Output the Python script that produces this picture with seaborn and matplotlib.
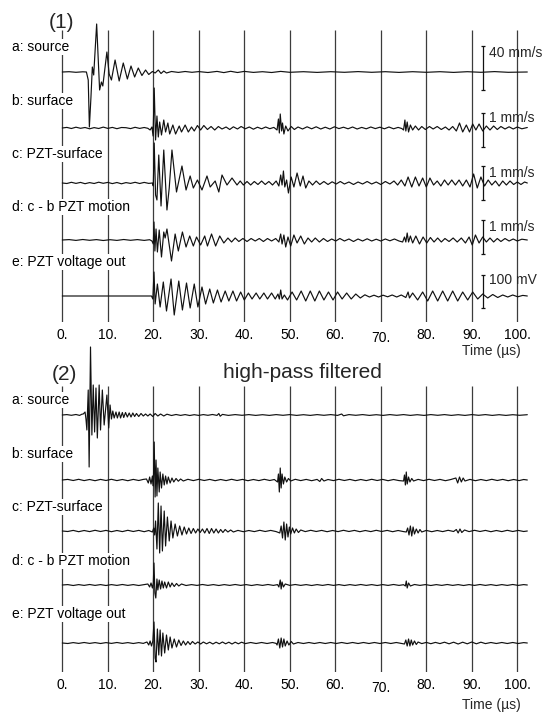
import matplotlib
matplotlib.use("Agg")
import matplotlib.pyplot as plt
import pandas as pd
import seaborn as sns

sns.set_style("white")
plt.rcParams["font.family"] = ["Liberation Sans", "DejaVu Sans"]

# ---------------------------------------------------------------------------
# Waveforms, (time in µs, amplitude in plot units) at peaks/troughs
# ---------------------------------------------------------------------------
# (1) raw records
top_a = [(0, 0), (1.5, 0.3), (3, -0.3), (4.5, 0.2), (5.3, 0), (5.7, -8), (5.95, -55), (6.3, -25),
         (6.6, 5), (6.9, -3), (7.55, 48), (8.2, -18), (8.6, -10), (8.9, -14), (9.8, 20), (10.3, -2),
         (10.8, -8), (11.6, 12), (12.5, -9), (13.4, 9), (14.3, -7), (15.1, 6), (15.9, -5), (16.7, 4),
         (17.5, -3.5), (18.3, 2), (19.0, -2.5), (19.8, 0.5), (20.4, -1), (21.1, 2), (21.7, -1.5),
         (22.3, 1), (22.9, -1), (24.0, 0.5), (25.5, -0.4), (27, 0.5), (28.5, -0.3), (30, 0.4),
         (32, -0.5), (34, 0.6), (35.5, -0.6), (37, 0.7), (38.5, -0.5), (40, 0.6), (42, -0.4),
         (44, 0.3), (46, -0.5), (48, 0.6), (50, -0.3), (53, 0.3), (56, -0.4), (59, 0.3), (62, -0.3),
         (65, 0.4), (68, -0.3), (71, 0.3), (74, -0.4), (77, 0.3), (80, -0.3), (83, 0.3), (86, -0.4),
         (89, 0.3), (92, -0.3), (95, 0.4), (98, -0.3), (102.2, 0)]

top_b = [(0, 0), (1, 0.6), (2, -0.5), (3, 0.8), (4, -0.3), (5, 0.5), (6, -0.8), (7, 0.4), (8, -0.5),
         (9, 0.9), (10, -0.4), (11, 0.6), (12, -0.7), (13, 0.5), (14, 0.3), (15, -0.6), (16, 0.7),
         (17, -0.4), (18, 0.5), (18.8, -0.3), (19.3, -2), (19.7, 1), (19.95, -8), (20.2, 40),
         (20.5, -12), (20.8, 12), (21.1, -9), (21.4, 6), (21.8, -7), (22.3, 8), (22.7, -4), (23.2, 5),
         (23.6, -6), (24.3, 3), (24.9, -6), (25.7, 2), (26.2, -4), (27.0, 3), (27.7, -4), (28.4, 1),
         (29.0, -3), (29.7, 2.5), (30.4, -2), (31.1, 2.5), (31.9, -1.5), (32.7, 1.5), (33.5, -2),
         (34.3, 1.5), (35.1, -1), (36.0, 1), (36.8, -1.5), (37.6, 1.2), (38.5, -1), (39.3, 1.5),
         (40.2, -0.8), (41.1, 1), (42.0, -1.2), (42.9, 0.8), (43.8, -0.8), (44.7, 1), (45.6, -0.7),
         (46.5, 0.6), (47.2, -2), (47.5, 9), (47.7, -5), (47.9, 14), (48.2, -3), (48.4, 5), (48.7, -6),
         (49.1, 2), (49.6, -3), (50.3, 1.5), (51.0, -1.5), (51.8, 1), (52.8, -1), (53.8, 1.2),
         (54.8, -0.8), (55.8, 1.2), (56.8, -1), (57.8, 0.8), (58.8, -1), (59.8, 1.2), (60.8, -0.6),
         (61.8, 0.8), (62.8, -0.8), (63.8, 1), (64.8, -1), (65.8, 0.6), (66.8, -0.8), (67.8, 1),
         (68.8, -0.6), (69.8, 0.8), (70.8, -0.8), (71.8, 1), (72.8, -0.8), (73.8, 0.6), (74.6, -0.5),
         (75.0, -2), (75.3, 8), (75.5, -3), (75.8, 6), (76.1, -4), (76.5, 3), (77.0, -2), (77.6, 2),
         (78.3, -2), (79.0, 1.5), (79.8, -1.5), (80.7, 1.5), (81.5, -1), (82.4, 1.5), (83.3, -1.5),
         (84.2, 1), (85.0, -2), (85.8, 1.5), (86.6, -3), (87.3, 5), (88.0, -4), (88.8, 3), (89.5, -4),
         (90.2, 4), (90.9, -2), (91.6, 4), (92.4, -3), (93.2, 2), (94.0, -2), (94.8, 2), (95.6, -1.5),
         (96.4, 1.5), (97.3, -1), (98.2, 1.2), (99.1, -1), (100.0, 1), (101.0, -0.8), (102.2, 0.5)]

top_c = [(0, 0), (1, -0.5), (2, 0.7), (3, -0.4), (4, 0.6), (5, -0.7), (6, 0.4), (7, -0.5), (8, 0.8),
         (9, -0.3), (10, 0.6), (11, -0.6), (12, 0.5), (13, -0.8), (14, 0.4), (15, -0.4), (16, 0.7),
         (17, -0.5), (18, 0.6), (19, -0.4), (19.8, 0), (20.0, -3), (20.2, 40), (20.5, -12), (20.8, -17),
         (21.2, 28), (21.7, -23), (22.3, 33), (23.0, -27), (23.5, -5), (24.1, 33), (25.1, -9),
         (26.3, 17), (27.2, -7), (28.1, 7), (28.8, -5), (29.7, 3), (30.7, -7), (31.8, 7), (32.5, -4),
         (33.6, 2), (34.4, -9), (35.1, 8), (36.2, -2), (37.3, 5), (38.4, -2), (39.1, 2), (39.8, -2),
         (40.6, 1.5), (41.4, -2), (42.2, 1.5), (43.0, -1.5), (43.8, 2), (44.6, -1.5), (45.4, 1.5),
         (46.2, -2), (47.0, 2), (47.6, -3), (48.0, 8), (48.3, -2), (48.6, 12), (48.9, -4), (49.3, 3),
         (49.7, -10), (50.3, 6), (50.9, -4), (51.6, 10), (52.3, -3), (52.9, 7), (53.5, -5), (54.2, 2),
         (55.0, -2), (55.8, 2), (56.6, -1.5), (57.5, 1.5), (58.4, -1.5), (59.3, 1.2), (60.2, -1),
         (61.1, 1.5), (62.0, -1), (63.0, 1), (64.0, -1.5), (65.0, 1), (66.0, -1), (67.0, 1.5),
         (68.0, -1), (69.0, 1), (70.0, -1.5), (71.0, 1.5), (72.0, -1), (72.9, 2), (73.7, -2), (74.5, 3),
         (75.3, -3), (76.0, 6), (76.8, -4), (77.6, 6), (78.4, -3), (79.2, 5), (80.0, -4), (80.8, 5),
         (81.6, -2), (82.4, 2), (83.2, -3), (84.0, 3), (84.8, -2), (85.6, 3), (86.4, -2), (87.2, 3),
         (88.0, -3), (88.8, 3), (89.6, -4), (90.4, 9), (91.2, -5), (92.0, 6), (92.8, -3), (93.6, 3),
         (94.4, -2), (95.2, 2), (96.0, -3), (96.8, 2), (97.6, -2), (98.4, 2), (99.2, -1.5), (100.0, 1),
         (100.8, -1.5), (101.6, 1), (102.2, 0)]

top_d = [(0, 0), (1.5, 0.4), (3, -0.4), (4.5, 0.5), (6, -0.3), (7.5, 0.4), (9, -0.5), (10.5, 0.3),
         (12, -0.4), (13.5, 0.5), (15, -0.3), (16.5, 0.4), (18, -0.4), (19.2, 0.3), (19.7, -1),
         (20.0, -4), (20.15, 18), (20.35, -11), (20.6, 11), (20.9, -12), (21.3, 10), (21.8, -17),
         (22.3, 8), (22.6, 2), (23.0, 11), (24.0, -21), (24.8, 6), (25.5, -11), (26.4, 8), (27.2, -7),
         (28.0, 4), (28.8, -6), (29.5, 3), (30.4, -5), (31.3, 4), (31.9, -6), (32.8, 6), (33.7, -6),
         (34.6, 4), (35.5, -3), (36.4, 2), (37.2, -2), (38.0, 2), (38.8, -1.5), (39.7, 1.5),
         (40.6, -1.5), (41.5, 1.5), (42.4, -1), (43.3, 1.5), (44.2, -1.5), (45.1, 1.5), (46.0, -1),
         (46.9, 1.5), (47.6, -2), (48.0, 6), (48.3, -4), (48.7, 5), (49.1, -7), (49.6, 3), (50.2, -6),
         (50.9, 5), (51.6, -3), (52.4, 4), (53.2, -4), (54.0, 2), (54.8, -2), (55.6, 2), (56.5, -2),
         (57.4, 1.5), (58.3, -1.5), (59.2, 1), (60.1, -1), (61.0, 1.5), (62.0, -1), (63.0, 1),
         (64.0, -1.5), (65.0, 1), (66.0, -1), (67.0, 1.2), (68.0, -1), (69.0, 0.8), (70.0, -1),
         (71.0, 1), (72.0, -0.8), (73.0, 1), (74.0, -1), (74.8, -2), (75.2, 3), (75.5, -2), (75.8, 7),
         (76.1, -2), (76.5, 4), (77.0, -3), (77.7, 4), (78.5, -4), (79.3, 3), (80.1, -3), (80.9, 2.5),
         (81.7, -2), (82.5, 2), (83.3, -2), (84.1, 1.5), (85.0, -1.5), (85.9, 2), (86.8, -2), (87.7, 2),
         (88.6, -3), (89.4, 3), (90.1, -5), (90.8, 5), (91.6, -3), (92.4, 3), (93.2, -2), (94.0, 2),
         (94.8, -2), (95.6, 1.5), (96.4, -1.5), (97.3, 1.5), (98.2, -1), (99.1, 1), (100.0, -1),
         (101.0, 0.8), (102.2, 0)]

top_e = [(0, 0), (19.6, 0), (19.9, -3), (20.15, 24), (20.4, -8), (20.9, 12), (21.5, -11), (22.2, 14),
         (22.9, -15), (23.9, 17), (24.6, -19), (25.6, 15), (26.4, -14), (27.3, 13), (28.1, -12),
         (29.0, 12), (29.8, -11), (30.7, 9), (31.5, -8), (32.4, 7), (33.2, -7), (34.1, 6), (34.9, -6),
         (35.8, 5), (36.6, -5), (37.5, 5), (38.3, -5), (39.2, 4), (40.0, -4), (40.9, 3), (41.7, -3),
         (42.6, 3), (43.4, -3), (44.3, 3), (45.1, -3), (46.0, 3), (46.8, -3), (47.4, 2), (47.7, -3),
         (48.0, 6), (48.3, -3), (48.8, 1), (49.5, -4), (50.5, 4), (51.5, -4), (52.5, 5), (53.5, -5),
         (54.5, 5), (55.5, -5), (56.5, 5), (57.5, -4), (58.5, 4), (59.5, -4), (60.5, 4), (61.5, -3),
         (62.5, 3), (63.5, -3), (64.5, 2), (65.5, -2), (66.5, 1.2), (67.5, -1), (68.5, 0.8),
         (69.5, -1), (70.5, 0.8), (71.5, -0.8), (72.5, 1), (73.5, -1), (74.5, 1), (75.5, -1.5),
         (76.0, 4), (76.3, -2), (77.0, 3), (78.1, -4), (79.2, 4), (80.3, -5), (81.4, 5), (82.5, -5),
         (83.6, 5), (84.7, -5), (85.8, 5), (86.9, -5), (88.0, 4), (89.1, -4), (90.2, 4), (91.3, -3),
         (92.4, 2), (93.5, -2), (94.6, 1.5), (95.7, -1.5), (96.8, 1), (97.9, -1), (99.0, 1),
         (100.1, -0.8), (101.2, 0.6), (102.2, 0)]

# (2) high-pass filtered records
bot_a = [(0, 0), (1, 0.4), (2, -0.3), (3, 0.5), (3.8, -0.4), (4.3, 0.8), (4.6, 1), (5.0, 3), (5.2, -4),
         (5.4, -15), (5.7, 25), (5.9, -52), (6.2, 68), (6.5, -20), (6.8, 30), (7.1, -17), (7.4, 27),
         (7.7, -23), (8.1, 30), (8.4, -15), (8.8, 25), (9.2, -10), (9.8, 20), (10.2, -13), (10.5, 10),
         (10.8, -4), (11.1, 4), (11.4, -3), (11.8, 3), (12.1, -3), (12.5, 3), (12.8, -3), (13.2, 2.5),
         (13.5, -2.5), (13.9, 2.5), (14.3, -2), (14.7, 2), (15.1, -2), (15.5, 2), (15.9, -1.5),
         (16.3, 1.5), (16.8, -1.5), (17.3, 1.5), (17.8, -1), (18.3, 1), (18.8, -1), (19.3, 1),
         (19.9, -1.5), (20.4, 1.5), (21.0, -1), (21.6, 1), (22.3, -1), (23.0, 0.8), (24, -0.5),
         (25, 0.5), (26, -0.4), (27, 0.4), (28, -0.5), (29, 0.3), (30, -0.4), (31, 0.4), (32, -0.3),
         (33, 0.5), (34, -0.4), (34.4, 1.5), (34.7, -1.2), (35.2, 0.6), (36.5, -0.4), (38, 0.4),
         (39.5, -0.3), (41, 0.4), (42.5, -0.4), (44, 0.3), (45.5, -0.4), (47, 0.4), (48.5, -0.3),
         (50, 0.4), (51.5, -0.4), (53, 0.3), (54.5, -0.4), (56, 0.4), (57.5, -0.3), (59, 0.4),
         (60.5, -0.4), (61.4, 1), (61.8, -0.8), (63, 0.4), (64.5, -0.3), (66, 0.4), (67.5, -0.4),
         (69, 0.3), (70.5, -0.4), (72, 0.4), (73.5, -0.3), (75, 0.4), (76.5, -0.4), (78, 0.3),
         (79.5, -0.4), (81, 0.4), (82.5, -0.3), (84, 0.4), (85.5, -0.4), (87, 0.3), (88.5, -0.4),
         (90, 0.4), (91.5, -0.3), (93, 0.4), (94.5, -0.4), (96, 0.3), (97.5, -0.4), (99, 0.3),
         (100.5, -0.3), (102.2, 0.3)]

bot_b = [(0, 0), (1.2, 0.6), (2.4, -0.5), (3.6, 0.7), (4.8, -0.6), (6.0, 0.5), (7.2, -0.7), (8.4, 0.6),
         (9.6, -0.5), (10.8, 0.7), (12.0, -0.6), (13.2, 0.5), (14.4, -0.7), (15.6, 0.6), (16.8, -0.5),
         (17.8, 0.6), (18.5, 1), (18.9, -3), (19.2, 3), (19.5, -4), (19.8, 4), (20.0, -6), (20.2, 38),
         (20.4, -17), (20.6, 20), (20.8, -16), (21.0, 12), (21.3, -12), (21.5, 8), (21.8, -8),
         (22.1, 6), (22.4, -5), (22.7, 4), (23.0, -4), (23.3, 3), (23.7, -3), (24.1, 2), (24.5, -2),
         (25.0, 1.5), (25.5, -1.2), (26.0, 1), (26.6, -1), (27.6, 0.7), (28.8, -0.6), (30.0, 0.7),
         (31.2, -0.5), (32.4, 0.6), (33.6, -0.7), (34.8, 0.5), (36.0, -0.6), (37.2, 0.7), (38.4, -0.5),
         (39.6, 0.6), (40.8, -0.7), (42.0, 0.5), (43.2, -0.6), (44.4, 0.7), (45.6, -0.5), (46.6, 0.5),
         (47.3, -2), (47.5, 6), (47.7, -12), (47.9, 12), (48.1, -8), (48.3, 6), (48.6, -4), (48.9, 3),
         (49.3, -2), (49.7, 1.5), (50.2, -1), (51.2, 0.7), (52.4, -0.6), (53.6, 0.6), (54.8, -0.7),
         (56.0, 0.6), (56.6, -1.5), (57.0, 1.5), (57.5, -1), (58.4, 0.5), (59.6, -0.6), (60.8, 0.7),
         (62.0, -0.5), (63.2, 0.6), (64.4, -0.7), (65.6, 0.5), (66.8, -0.6), (68.0, 0.7), (69.2, -0.5),
         (70.4, 0.6), (71.6, -0.7), (72.8, 0.5), (74.0, -0.6), (75.0, -1), (75.2, 5), (75.4, -5),
         (75.6, 8), (75.8, -4), (76.1, 3), (76.4, -2), (76.8, 1.5), (77.2, -1), (78.2, 0.6),
         (79.4, -0.6), (80.6, 0.7), (81.8, -0.5), (83.0, 0.6), (84.2, -0.7), (85.4, 0.5), (86.5, 2),
         (86.9, -3), (87.3, 3), (87.7, -2), (88.1, 2), (88.5, -1), (89.6, 0.6), (90.8, -0.7),
         (92.0, 0.5), (93.2, -0.6), (94.4, 0.7), (95.6, -0.5), (96.8, 0.6), (98.0, -0.7), (99.2, 0.5),
         (100.4, -0.6), (101.4, 0.5), (102.2, 0)]

bot_c = [(0, 0), (1.2, -0.5), (2.4, 0.6), (3.6, -0.7), (4.8, 0.5), (6.0, -0.6), (7.2, 0.7), (8.4, -0.5),
         (9.6, 0.6), (10.8, -0.7), (12.0, 0.5), (13.2, -0.6), (14.4, 0.7), (15.6, -0.5), (16.8, 0.6),
         (18.0, -0.7), (19.0, 0.5), (19.8, -1), (20.1, 3), (20.3, -4), (20.5, 10), (20.8, -18),
         (21.1, 28), (21.4, -22), (21.7, 25), (22.0, -20), (22.4, 20), (22.7, -15), (23.1, 14),
         (23.5, -10), (23.9, 10), (24.3, -7), (24.8, 7), (25.3, -5), (25.8, 5), (26.3, -4), (26.8, 4),
         (27.3, -3), (27.8, 3), (28.3, -2.5), (28.8, 2.5), (29.3, -2), (29.8, 2), (30.3, -1.5),
         (30.8, 2), (31.3, -2), (31.8, 2.5), (32.3, -2.5), (32.8, 2.5), (33.3, -2), (33.8, 2),
         (34.3, -2), (34.8, 1.5), (35.3, -1.5), (35.8, 1.5), (36.4, -1), (37.0, 1), (37.6, -1),
         (38.6, 0.6), (39.8, -0.7), (41.0, 0.5), (42.2, -0.6), (43.4, 0.7), (44.6, -0.5), (45.8, 0.6),
         (47.0, -0.6), (47.8, -2), (48.1, 5), (48.4, -7), (48.7, 9), (49.0, -9), (49.3, 7), (49.6, -6),
         (49.9, 4), (50.2, -3), (50.6, 3), (51.0, -2), (51.4, 2), (51.9, -1.5), (52.4, 1),
         (53.4, -0.6), (54.6, 0.7), (55.8, -0.5), (57.0, 0.6), (58.2, -0.7), (59.4, 0.5), (60.6, -0.6),
         (61.8, 0.7), (63.0, -0.5), (64.2, 0.6), (65.4, -0.7), (66.6, 0.5), (67.8, -0.6), (69.0, 0.7),
         (70.2, -0.5), (71.4, 0.6), (72.6, -0.7), (73.8, 0.5), (75.0, -0.6), (75.6, -1), (75.9, 3),
         (76.2, -4), (76.5, 5), (76.8, -5), (77.1, 4), (77.4, -3), (77.8, 2), (78.2, -2), (78.6, 1.5),
         (79.0, -1), (80.0, 0.6), (81.2, -0.7), (82.4, 0.5), (83.6, -0.6), (84.8, 0.7), (86.0, -0.5),
         (86.6, 1.5), (87.0, -2), (87.4, 2), (87.8, -1.5), (88.4, 1), (89.4, -0.6), (90.6, 0.7),
         (91.8, -0.5), (93.0, 0.6), (94.2, -0.7), (95.4, 0.5), (96.6, -0.6), (97.8, 0.7), (99.0, -0.5),
         (100.2, 0.6), (101.4, -0.5), (102.2, 0)]

bot_d = [(0, 0), (1.2, 0.4), (2.4, -0.5), (3.6, 0.4), (4.8, -0.4), (6.0, 0.5), (7.2, -0.4), (8.4, 0.4),
         (9.6, -0.5), (10.8, 0.4), (12.0, -0.4), (13.2, 0.5), (14.4, -0.4), (15.6, 0.4), (16.8, -0.5),
         (18.0, 0.4), (18.8, 1), (19.2, -2), (19.5, 2), (19.8, -3), (20.0, 2), (20.15, 22),
         (20.35, -8), (20.55, -13), (20.8, 6), (21.0, -5), (21.3, 5), (21.6, -4), (21.9, 4),
         (22.2, -3), (22.5, 3), (22.9, -3), (23.3, 3), (23.7, -2), (24.1, 2), (24.6, -1.5),
         (25.1, 1.5), (25.6, -1), (26.2, 1), (27.2, -0.5), (28.4, 0.4), (29.6, -0.4), (30.8, 0.5),
         (32.0, -0.4), (33.2, 0.4), (34.4, -0.5), (35.6, 0.4), (36.8, -0.4), (38.0, 0.5), (39.2, -0.4),
         (40.4, 0.4), (41.6, -0.5), (42.8, 0.4), (44.0, -0.4), (45.2, 0.5), (46.4, -0.4), (47.3, 0.4),
         (47.6, -2), (47.9, 5), (48.1, -4), (48.3, 3), (48.6, -2), (49.0, 1), (50.0, -0.4), (51.2, 0.5),
         (52.4, -0.4), (53.6, 0.4), (54.8, -0.5), (56.0, 0.4), (57.2, -0.4), (58.4, 0.5), (59.6, -0.4),
         (60.8, 0.4), (62.0, -0.5), (63.2, 0.4), (64.4, -0.4), (65.6, 0.5), (66.8, -0.4), (68.0, 0.4),
         (69.2, -0.5), (70.4, 0.4), (71.6, -0.4), (72.8, 0.5), (74.0, -0.4), (75.0, 0.3), (75.4, -1),
         (75.6, 4), (75.8, -3), (76.1, 2), (76.5, -1), (77.4, 0.5), (78.6, -0.4), (79.8, 0.4),
         (81.0, -0.5), (82.2, 0.4), (83.4, -0.4), (84.6, 0.5), (85.8, -0.4), (87.0, 0.4), (88.2, -0.5),
         (89.4, 0.4), (90.6, -0.4), (91.8, 0.5), (93.0, -0.4), (94.2, 0.4), (95.4, -0.5), (96.6, 0.4),
         (97.8, -0.4), (99.0, 0.5), (100.2, -0.4), (101.4, 0.4), (102.2, 0)]

bot_e = [(0, 0), (1.2, -0.5), (2.4, 0.4), (3.6, -0.4), (4.8, 0.5), (6.0, -0.4), (7.2, 0.4), (8.4, -0.5),
         (9.6, 0.4), (10.8, -0.4), (12.0, 0.5), (13.2, -0.4), (14.4, 0.4), (15.6, -0.5), (16.8, 0.4),
         (17.8, -0.4), (18.6, 1), (19.0, -2), (19.3, 2), (19.6, -3), (19.9, 2), (20.15, 21),
         (20.4, -15), (20.6, -19), (20.9, 14), (21.2, -12), (21.5, 13), (21.8, -13), (22.1, 10),
         (22.5, -10), (22.9, 8), (23.3, -7), (23.7, 6), (24.1, -5), (24.6, 4), (25.1, -4), (25.6, 3),
         (26.1, -2.5), (26.6, 2), (27.1, -2), (27.6, 1.5), (28.1, -1.5), (28.6, 1.5), (29.2, -1),
         (29.8, 1), (30.4, -1), (31.0, 1), (31.7, -0.8), (32.4, 0.8), (33.1, -1), (33.8, 0.8),
         (34.5, -0.8), (35.2, 1), (35.9, -0.8), (36.6, 0.8), (37.3, -1), (38.0, 0.8), (38.7, -0.8),
         (39.4, 0.8), (40.2, -0.6), (41.4, 0.5), (42.6, -0.5), (43.8, 0.5), (45.0, -0.5), (46.2, 0.5),
         (47.0, -0.4), (47.2, -2), (47.5, 4), (47.8, -5), (48.1, 5), (48.4, -4), (48.7, 4), (49.0, -3),
         (49.4, 2), (49.8, -2), (50.3, 1.5), (50.8, -1), (51.8, 0.5), (53.0, -0.5), (54.2, 0.5),
         (55.4, -0.5), (56.6, 0.5), (57.8, -0.5), (59.0, 0.5), (60.2, -0.5), (61.4, 0.5), (62.6, -0.5),
         (63.8, 0.5), (65.0, -0.5), (66.2, 0.5), (67.4, -0.5), (68.6, 0.5), (69.8, -0.5), (71.0, 0.5),
         (72.2, -0.5), (73.4, 0.5), (74.6, -0.5), (75.2, -1), (75.5, 3), (75.8, -3), (76.1, 4),
         (76.4, -3), (76.7, 3), (77.0, -2), (77.4, 2), (77.8, -1.5), (78.2, 1), (79.0, -0.6),
         (80.0, 0.6), (81.0, -0.7), (82.0, 0.6), (83.0, -0.6), (84.0, 0.8), (85.0, -0.8), (86.0, 0.8),
         (87.0, -1), (88.0, 0.8), (89.0, -0.8), (90.0, 1), (91.0, -0.8), (92.0, 0.8), (93.0, -0.6),
         (94.2, 0.5), (95.4, -0.5), (96.6, 0.5), (97.8, -0.5), (99.0, 0.5), (100.2, -0.5), (101.4, 0.4),
         (102.2, 0)]

trace_labels = ["a: source", "b: surface", "c: PZT-surface", "d: c - b PZT motion", "e: PZT voltage out"]
time_ticks = [0, 10, 20, 30, 40, 50, 60, 70, 80, 90, 100]
time_tick_labels = ["0.", "10.", "20.", "30.", "40.", "50.", "60.", "70.", "80.", "90.", "100."]

# calibration bars of the raw records: value, unit, plot units per physical unit
scale_values = [40, 1, 1, 1, 100]
scale_units = ["mm/s", "mm/s", "mm/s", "mm/s", "mV"]
trace_gain = [1.1, 34, 34, 34, 0.33]

# ---------------------------------------------------------------------------
# Layout (figure pixels, measured from the top-left corner)
# ---------------------------------------------------------------------------
W, H, DPI = 552, 712, 100
X0_PX, PX_PER_US = 62.3, 4.55
T_LEFT, T_RIGHT = -X0_PX / PX_PER_US, (W - X0_PX) / PX_PER_US

panels = [
    dict(traces=[top_a, top_b, top_c, top_d, top_e], top=20, bottom=322, grid_top=30,
         baselines=[72, 128, 183, 240, 296], label_y=[47, 101, 154, 207, 262],
         tag="(1)", tag_xy=(62, 22), xlabel_y=351, calib=True),
    dict(traces=[bot_a, bot_b, bot_c, bot_d, bot_e], top=340, bottom=672, grid_top=386,
         baselines=[415, 480, 531, 585, 643], label_y=[400, 454, 507, 561, 614],
         tag="(2)", tag_xy=(64.5, 374), xlabel_y=705, calib=False),
]
calib_t = 92.5                     # time position of the calibration bars
calib_label_t = 93.8
calib_bottom = [-18, -19, -17, -14, -12]   # bar foot relative to baseline
calib_label_y = [269 - 250, 204 - 194, 149.3 - 139, 95.3 - 82, 42 - 26]

fig = plt.figure(figsize=(W / DPI, H / DPI), dpi=DPI)
fig.patch.set_facecolor("white")


def fig_xy(x_px, y_px):
    return x_px / W, 1 - y_px / H


ink = "#111111"
for p in panels:
    height = p["bottom"] - p["top"]
    ax = fig.add_axes([0, 1 - p["bottom"] / H, 1, height / H])
    ax.set_xlim(T_LEFT, T_RIGHT)
    ax.set_ylim(0, height)
    ax.patch.set_alpha(0)
    for s in ax.spines.values():
        s.set_visible(False)
    ax.set_yticks([])

    # vertical time grid
    ax.vlines(time_ticks, 0, p["bottom"] - p["grid_top"], colors="#3c3c3c",
              linewidth=0.9, zorder=1)

    for k, (trace, base_px) in enumerate(zip(p["traces"], p["baselines"])):
        offset = p["bottom"] - base_px
        df = pd.DataFrame(trace, columns=["time", "amp"])
        df["y"] = offset + df["amp"]
        sns.lineplot(data=df, x="time", y="y", ax=ax, color=ink, linewidth=0.85,
                     estimator=None, sort=False, legend=False, zorder=2)

        fx, fy = fig_xy(12, p["label_y"][k])
        fig.text(fx, fy, trace_labels[k], fontsize=10, ha="left", va="center", color="black",
                 bbox=dict(facecolor="white", edgecolor="none", pad=0.6), zorder=5)

        if p["calib"]:
            bar_len = scale_values[k] * trace_gain[k]
            y0 = offset + calib_bottom[k]
            y1 = y0 + bar_len
            ax.vlines(calib_t, y0, y1, colors=ink, linewidth=0.9, zorder=3)
            ax.hlines([y0, y1], calib_t - 0.45, calib_t + 0.45, colors=ink, linewidth=0.9, zorder=3)
            ax.text(calib_label_t, offset + calib_label_y[k],
                    f"{scale_values[k]} {scale_units[k]}", fontsize=10, ha="left", va="center")

    ax.set_xticks(time_ticks)
    ax.set_xticklabels(time_tick_labels)
    ax.set_xlabel("")
    ax.set_ylabel("")
    ax.tick_params(axis="x", length=0, pad=4.5, labelsize=10, colors="black")
    ax.xaxis.get_major_ticks()[time_ticks.index(70)].set_pad(6.8)

    fx, fy = fig_xy(491, p["xlabel_y"])
    fig.text(fx, fy, "Time (µs)", fontsize=10, ha="center", va="center")
    fx, fy = fig_xy(*p["tag_xy"])
    fig.text(fx, fy, p["tag"], fontsize=15, ha="center", va="center")

fx, fy = fig_xy(302, 372)
fig.text(fx, fy, "high-pass filtered", fontsize=15, ha="center", va="center")

fig.savefig("out.png", dpi=DPI, facecolor="white")
